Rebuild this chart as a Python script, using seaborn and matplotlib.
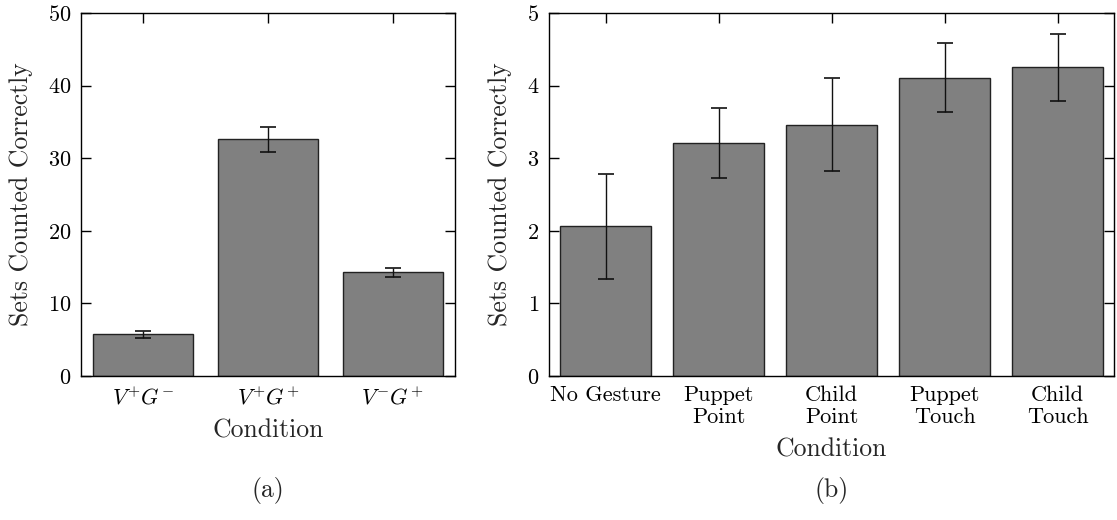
import matplotlib
matplotlib.use("Agg")
import matplotlib.pyplot as plt
import seaborn as sns
import numpy as np

# Panel (a): visual / gesture conditions
cond_a = [r"$V^{+}G^{-}$", r"$V^{+}G^{+}$", r"$V^{-}G^{+}$"]
mean_a = [5.75, 32.6, 14.3]
err_a = [0.5, 1.75, 0.6]

# Panel (b): gesture type conditions
cond_b = ["No Gesture", "Puppet\nPoint", "Child\nPoint", "Puppet\nTouch", "Child\nTouch"]
mean_b = [2.06, 3.21, 3.46, 4.11, 4.25]
err_b = [0.72, 0.48, 0.64, 0.48, 0.46]

yticks_a = [0, 10, 20, 30, 40, 50]
yticks_b = [0, 1, 2, 3, 4, 5]

sns.set_theme(style="ticks")
plt.rcParams["font.family"] = ["cmr10", "DejaVu Serif"]
plt.rcParams["mathtext.fontset"] = "cm"
plt.rcParams["axes.formatter.use_mathtext"] = True
plt.rcParams["axes.unicode_minus"] = False

fig = plt.figure(figsize=(11.17, 5.2), dpi=100)
ax_a = fig.add_axes([81 / 1117, 144 / 520, 374 / 1117, 363 / 520])
ax_b = fig.add_axes([549 / 1117, 144 / 520, 565 / 1117, 363 / 520])


def draw_panel(ax, cats, means, errs, yticks):
    sns.barplot(x=cats, y=means, color="#808080", saturation=1, width=0.8,
                edgecolor="#222222", linewidth=1.0, errorbar=None, ax=ax)
    ax.errorbar(np.arange(len(cats)), means, yerr=errs, fmt="none",
                ecolor="#111111", elinewidth=1.0, capsize=6, capthick=1.2, zorder=3)
    ax.set_xlim(-0.5, len(cats) - 0.5)
    ax.set_ylim(yticks[0], yticks[-1])
    ax.set_yticks(yticks)
    ax.set_xticks(range(len(cats)))
    ax.set_xticklabels(cats, fontsize=16, linespacing=1.15)
    ax.tick_params(axis="both", direction="in", length=7, width=1.0,
                   top=True, right=True, labelsize=16, pad=7, colors="black")
    ax.set_xlabel("Condition", fontsize=18.5, labelpad=8)
    ax.set_ylabel("Sets Counted Correctly", fontsize=18.5, labelpad=11)
    for s in ax.spines.values():
        s.set_visible(True)
        s.set_color("black")
        s.set_linewidth(1.0)


draw_panel(ax_a, cond_a, mean_a, err_a, yticks_a)
draw_panel(ax_b, cond_b, mean_b, err_b, yticks_b)

fig.text((81 + 374 / 2) / 1117, 30 / 520, "(a)", ha="center", va="center", fontsize=18.5)
fig.text((549 + 565 / 2) / 1117, 30 / 520, "(b)", ha="center", va="center", fontsize=18.5)

fig.savefig("out.png", dpi=100)
